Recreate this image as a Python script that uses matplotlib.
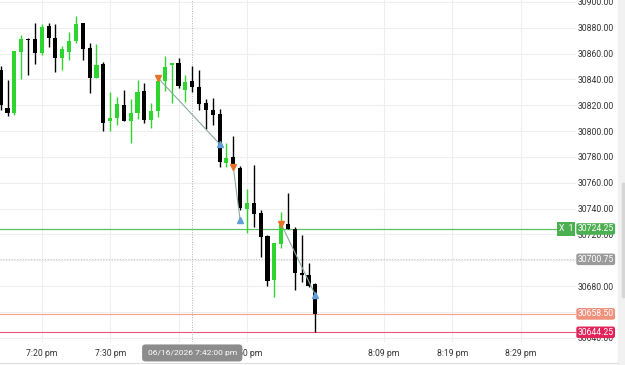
import matplotlib
matplotlib.use("Agg")
import matplotlib.pyplot as plt
import matplotlib.transforms as mtransforms
from matplotlib.patches import Rectangle
from matplotlib.lines import Line2D

plt.rcParams['font.family'] = ['Roboto', 'DejaVu Sans']

# 1 minute candles, 7:14 pm .. 8:00 pm (index 0 = 7:14)
opens = [30847.3, 30817.9, 30814.0, 30861.2, 30871.3, 30871.3, 30860.5, 30881.3, 30872.1, 30856.6,
         30861.2, 30869.7, 30883.7, 30864.3, 30841.1, 30851.9, 30807.8, 30810.1, 30820.2, 30807.8,
         30814.0, 30831.0, 30808.6, 30815.6, 30838.8, 30851.2, 30852.7, 30831.8, 30838.8, 30834.1,
         30821.8, 30816.3, 30813.2, 30775.3, 30780.0, 30771.4, 30739.7, 30744.4, 30736.6, 30718.8,
         30684.8, 30712.6, 30728.1, 30724.2, 30690.2, 30688.6, 30681.7]
highs = [30850.4, 30839.5, 30862.0, 30874.4, 30872.1, 30883.7, 30882.9, 30883.7, 30882.9, 30865.9,
         30876.7, 30889.1, 30883.7, 30868.2, 30867.4, 30853.5, 30830.3, 30826.4, 30831.8, 30824.8,
         30839.5, 30837.2, 30821.8, 30841.1, 30858.1, 30852.7, 30856.6, 30843.4, 30850.4, 30847.3,
         30824.8, 30825.6, 30817.1, 30790.8, 30796.2, 30773.0, 30755.2, 30773.8, 30738.9, 30719.6,
         30713.4, 30737.4, 30752.1, 30725.8, 30719.6, 30697.9, 30682.4]
lows = [30816.3, 30811.7, 30812.5, 30840.3, 30843.4, 30851.9, 30858.9, 30865.1, 30845.7, 30847.3,
        30855.0, 30868.2, 30855.0, 30829.5, 30841.1, 30800.1, 30800.1, 30804.7, 30807.8, 30790.8,
        30809.4, 30806.3, 30802.4, 30810.9, 30831.0, 30821.8, 30833.4, 30822.5, 30830.3, 30816.3,
        30801.6, 30804.7, 30772.2, 30772.2, 30772.2, 30738.9, 30721.1, 30725.8, 30702.5, 30680.1,
        30671.6, 30709.5, 30724.2, 30677.0, 30683.2, 30679.3, 30644.25]
closes = [30820.2, 30814.0, 30862.0, 30871.3, 30870.5, 30860.5, 30880.6, 30872.1, 30856.6, 30863.5,
          30869.7, 30882.9, 30863.5, 30841.1, 30851.2, 30806.3, 30810.1, 30821.0, 30807.8, 30814.0,
          30830.3, 30808.6, 30815.6, 30838.8, 30849.6, 30852.7, 30834.9, 30838.0, 30834.1, 30821.0,
          30816.3, 30812.5, 30776.1, 30779.2, 30773.8, 30740.5, 30744.4, 30735.8, 30718.0, 30684.0,
          30713.4, 30728.1, 30724.2, 30690.2, 30688.6, 30680.1, 30658.5]

# trades: sell entry -> buy exit
entry_idx = [23, 34, 41]
entry_price = [30841.1, 30772.2, 30728.1]
exit_idx = [32, 35, 46]
exit_price = [30790.0, 30731.2, 30673.1]

# price levels on the right axis
level_prices = [30724.25, 30700.75, 30658.50, 30644.25]
level_colors = ['#5cc060', '#c4c4c4', '#f4a390', '#e8557a']
level_box_colors = ['#4caf50', '#9b9b9b', '#f0917c', '#e2245a']

y_ticks = [30640 + 20 * k for k in range(14)]
x_tick_pos = [6, 16, 26, 36, 56, 66, 76]
x_tick_labels = ['7:20 pm', '7:30 pm', '7:40 pm', '7:50 pm', '8:09 pm', '8:19 pm', '8:29 pm']
cross_idx = 28
cross_label = '06/16/2026 7:42:00 pm'

up_col = '#2fd52f'
down_col = '#000000'

fig = plt.figure(figsize=(6.25, 3.65), dpi=100)
ax = fig.add_axes([0, 23 / 365, 576 / 625, 342 / 365])

# candles
for i in range(len(opens)):
    o, h, l, c = opens[i], highs[i], lows[i], closes[i]
    col = up_col if c > o else down_col
    ax.vlines(i, l, h, color=col, lw=1.0, zorder=3)
    ax.bar(i, max(abs(c - o), 0.9), bottom=min(o, c), width=0.6, color=col, zorder=4)

# trade lines and markers
for k in range(len(entry_idx)):
    ax.plot([entry_idx[k], exit_idx[k]], [entry_price[k], exit_price[k]],
            color='#8aab9c', lw=0.8, zorder=5)
    ax.plot(entry_idx[k], entry_price[k], marker='v', ms=4.5, color='#e8742a', zorder=6)
    ax.plot(exit_idx[k], exit_price[k], marker='^', ms=4.5, color='#5f9fd8', zorder=6)

# level lines
trans = mtransforms.blended_transform_factory(ax.transAxes, ax.transData)
ax.axhline(level_prices[0], xmax=556 / 576, color=level_colors[0], lw=0.9, zorder=2)
ax.axhline(level_prices[1], color=level_colors[1], lw=0.8, ls=(0, (1, 1.5)), zorder=2)
ax.axhline(level_prices[2], color=level_colors[2], lw=0.8, zorder=2)
ax.axhline(level_prices[3], color=level_colors[3], lw=0.8, zorder=2)

# crosshair
ax.axvline(cross_idx, color='#b0b0b0', lw=0.7, ls=(0, (1, 1.5)), zorder=2)

ax.set_xlim(-0.1, 84.1)
ax.set_ylim(30636.76, 30901.47)
ax.set_yticks(y_ticks)
ax.set_yticklabels(['%.2f' % v for v in y_ticks])
ax.yaxis.tick_right()
ax.set_xticks(x_tick_pos)
ax.set_xticklabels(x_tick_labels)
ax.tick_params(axis='both', length=0, labelsize=6.2, colors='#333333')
ax.tick_params(axis='y', pad=1.5)
ax.tick_params(axis='x', pad=5)
ax.grid(True, color='#efefef', lw=0.8, zorder=0)
ax.set_axisbelow(True)
for s in ax.spines.values():
    s.set_visible(False)

# price label boxes
for p, bc in zip(level_prices, level_box_colors):
    ax.text(1 + 1.6 / 576, p, '%.2f' % p, transform=trans, ha='left', va='center',
            fontsize=6.2, color='white', zorder=10, clip_on=False,
            bbox=dict(boxstyle='round,pad=0.15,rounding_size=0.25', fc=bc, ec='none'))
ax.text(566 / 576, level_prices[0], 'X  1', transform=trans, ha='center', va='center',
        fontsize=6.2, color='white', zorder=10,
        bbox=dict(boxstyle='square,pad=0.25', fc=level_box_colors[0], ec='none'))

# crosshair time label
ax.text(cross_idx, -0.032, cross_label, transform=mtransforms.blended_transform_factory(ax.transData, ax.transAxes),
        ha='center', va='center', fontsize=6.1, color='white', zorder=10, clip_on=False,
        bbox=dict(boxstyle='round,pad=0.65,rounding_size=0.4', fc='#8c8c8c', ec='none'))

# right strip / scrollbar and bottom separator
fig.add_artist(Rectangle((618 / 625, 0), 7 / 625, 1, transform=fig.transFigure, color='#f1f1f1', zorder=0))
fig.add_artist(Rectangle((622 / 625, (365 - 297) / 365), 3 / 625, 114 / 365,
                         transform=fig.transFigure, color='#d6d6d6', zorder=1))
fig.add_artist(Line2D([0, 618 / 625], [2 / 365, 2 / 365], transform=fig.transFigure, color='#dddddd', lw=0.8))

fig.savefig('out.png', dpi=100)
